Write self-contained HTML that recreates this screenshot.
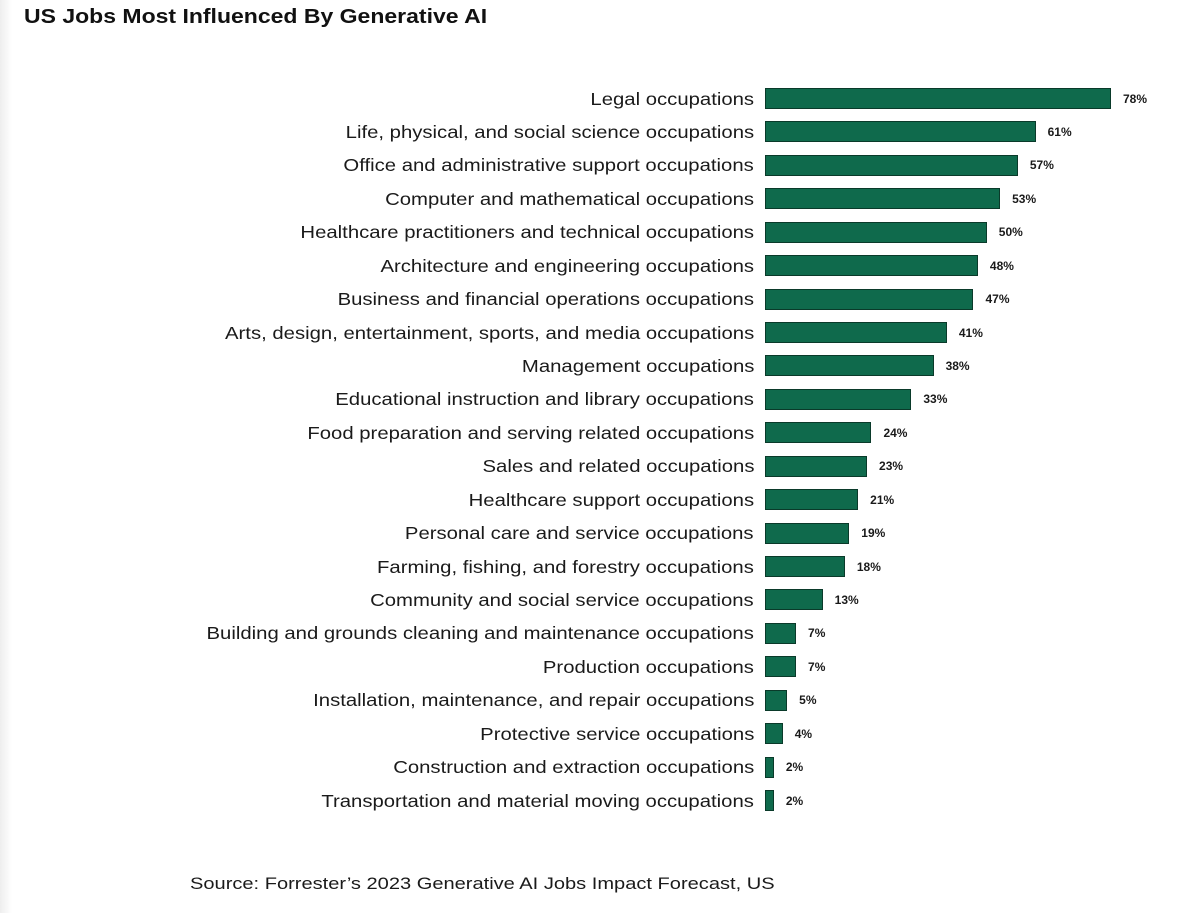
<!DOCTYPE html>
<html><head><meta charset="utf-8"><style>
body{margin:0;width:1200px;height:913px;background:#fff;position:relative;overflow:hidden;font-family:"Liberation Sans",sans-serif;color:#1a1a1a}
.t{position:absolute;left:24px;top:6px;font-size:20px;font-weight:bold;color:#111;transform:scaleX(1.15);transform-origin:left}
.l{position:absolute;right:446px;font-size:17.5px;white-space:nowrap;line-height:20px;transform:scaleX(1.16);transform-origin:right}
.b{position:absolute;left:765px;height:21px;background:#0f6a4c;border:1px solid #0a3a2a;box-sizing:border-box}
.v{position:absolute;font-size:12px;font-weight:bold;line-height:14px}
.s{position:absolute;left:190px;top:874px;font-size:17px;transform:scaleX(1.18);transform-origin:left}
.edge{position:absolute;left:0;top:0;width:12px;height:913px;background:linear-gradient(to right,#eee,#fff)}
</style></head><body>
<div class="edge"></div>
<div class="t">US Jobs Most Influenced By Generative AI</div>
<div id="c"></div>
<div class="s">Source: Forrester’s 2023 Generative AI Jobs Impact Forecast, US</div>
<script>
var d=[["Legal occupations",78],["Life, physical, and social science occupations",61],["Office and administrative support occupations",57],["Computer and mathematical occupations",53],["Healthcare practitioners and technical occupations",50],["Architecture and engineering occupations",48],["Business and financial operations occupations",47],["Arts, design, entertainment, sports, and media occupations",41],["Management occupations",38],["Educational instruction and library occupations",33],["Food preparation and serving related occupations",24],["Sales and related occupations",23],["Healthcare support occupations",21],["Personal care and service occupations",19],["Farming, fishing, and forestry occupations",18],["Community and social service occupations",13],["Building and grounds cleaning and maintenance occupations",7],["Production occupations",7],["Installation, maintenance, and repair occupations",5],["Protective service occupations",4],["Construction and extraction occupations",2],["Transportation and material moving occupations",2]];
var h="";
d.forEach(function(r,i){var cy=98.5+i*33.43;var w=Math.max(r[1]*4.436,8);
if(i==0)w=346;
h+='<div class="l" style="top:'+(cy-10)+'px">'+r[0]+'</div>';
h+='<div class="b" style="top:'+(cy-10.5)+'px;width:'+w+'px"></div>';
h+='<div class="v" style="top:'+(cy-7)+'px;left:'+(765+w+12)+'px">'+r[1]+'%</div>';});
document.getElementById("c").innerHTML=h;
</script>
</body></html>
